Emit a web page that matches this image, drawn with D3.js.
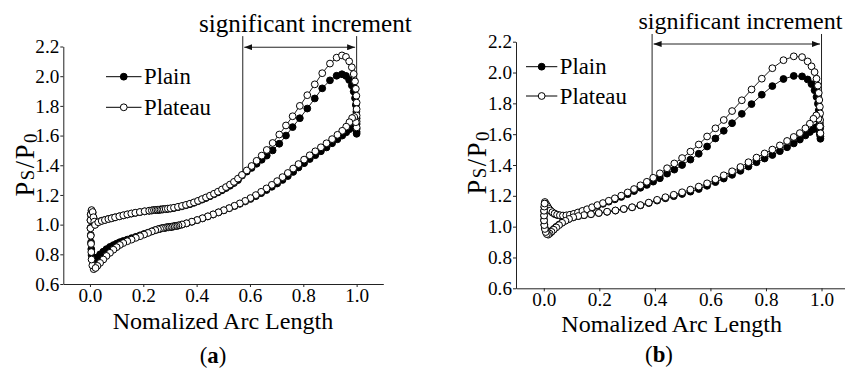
<!DOCTYPE html>
<html><head><meta charset="utf-8">
<script src="https://cdn.jsdelivr.net/npm/d3@7"></script>
<style>
body{margin:0;background:#fff}
svg{display:block}
</style></head>
<body><svg id="chart" width="845" height="372"></svg>
<script>
// ---------- data ----------
const seriesNames = ["Plain", "Plateau"];
const xTicks = [0.0, 0.2, 0.4, 0.6, 0.8, 1.0];
const yTicks = [0.6, 0.8, 1.0, 1.2, 1.4, 1.6, 1.8, 2.0, 2.2];
const xLabel = "Nomalized Arc Length";
const noteLabel = "significant increment";

// Panel (a): closed loop — leading-edge column, pressure side (to peak + TE), suction side back to LE
const aX = [
  0.014,0.009,0.006,0.005,0.004,0.003,0.002,0.002,0.003,0.006,0.010,0.013,0.016,
  0.019,0.031,0.044,0.056,0.069,0.081,0.094,0.110,0.125,0.140,0.155,0.170,0.187,0.205,0.222,
  0.232,0.240,0.247,0.253,0.259,0.265,0.271,0.277,0.284,0.292,0.302,
  0.315,0.330,0.345,0.360,0.375,0.390,0.405,0.420,0.435,0.450,0.465,0.480,0.495,0.510,0.525,0.540,0.555,0.570,
  0.588,0.606,0.625,0.644,0.663,0.685,0.710,0.735,0.760,0.787,0.815,0.843,0.871,0.900,0.925,0.945,0.960,0.972,0.982,0.989,0.994,0.997,0.999,1.000,1.000,1.000,1.000,1.000,
  0.997,0.991,0.983,0.973,0.961,0.946,0.928,0.908,0.887,0.866,0.845,0.824,0.803,0.782,0.762,0.742,0.722,0.702,0.682,0.662,0.642,0.622,0.602,0.582,0.562,0.542,0.522,0.502,0.482,0.462,0.442,0.422,0.402,0.382,0.362,0.345,0.332,0.324,0.318,0.312,0.306,0.300,0.294,0.288,0.282,0.276,0.270,0.263,0.255,0.245,0.232,0.218,0.203,0.188,0.172,0.156,0.140,0.125,0.112,0.100,0.088,0.075,0.062,0.050,0.038,0.028,0.021
];
const aPlain = [
  0.752,0.770,0.795,0.835,0.880,0.930,0.978,1.030,1.068,1.093,1.080,1.048,1.018,
  1.000,1.017,1.026,1.032,1.038,1.043,1.049,1.056,1.062,1.068,1.074,1.079,1.084,1.089,1.093,
  1.095,1.097,1.098,1.099,1.100,1.101,1.102,1.103,1.104,1.106,1.108,
  1.112,1.117,1.123,1.130,1.138,1.147,1.157,1.168,1.179,1.191,1.204,1.217,1.231,1.246,1.262,1.280,1.300,1.330,
  1.357,1.382,1.410,1.437,1.465,1.500,1.545,1.600,1.657,1.717,1.782,1.850,1.918,1.972,2.003,2.013,2.002,1.975,1.938,1.897,1.852,1.806,1.760,1.716,1.678,1.645,1.625,1.612,
  1.650,1.668,1.660,1.643,1.622,1.600,1.575,1.548,1.520,1.494,1.468,1.442,1.414,1.385,1.355,1.327,1.301,1.277,1.255,1.233,1.212,1.192,1.173,1.156,1.140,1.125,1.110,1.096,1.082,1.068,1.055,1.042,1.030,1.019,1.008,1.000,0.994,0.991,0.989,0.987,0.985,0.984,0.982,0.981,0.979,0.977,0.975,0.972,0.968,0.963,0.955,0.946,0.937,0.928,0.918,0.909,0.899,0.890,0.882,0.872,0.862,0.850,0.835,0.818,0.800,0.780,0.765
];
const aPlateau = [
  0.700,0.725,0.765,0.815,0.870,0.925,0.975,1.030,1.070,1.098,1.085,1.050,1.020,
  0.998,1.016,1.025,1.031,1.038,1.043,1.049,1.056,1.063,1.069,1.075,1.080,1.085,1.090,1.094,
  1.096,1.098,1.099,1.100,1.101,1.102,1.103,1.104,1.106,1.108,1.110,
  1.114,1.120,1.126,1.133,1.141,1.150,1.160,1.172,1.183,1.195,1.208,1.222,1.237,1.253,1.270,1.288,1.310,1.335,
  1.365,1.395,1.430,1.465,1.503,1.550,1.607,1.668,1.730,1.800,1.872,1.945,2.020,2.085,2.125,2.140,2.130,2.100,2.060,2.015,1.965,1.915,1.868,1.822,1.778,1.735,1.695,1.655,
  1.690,1.725,1.718,1.690,1.660,1.632,1.605,1.576,1.548,1.521,1.494,1.467,1.438,1.408,1.378,1.348,1.320,1.293,1.268,1.244,1.221,1.199,1.179,1.160,1.143,1.127,1.111,1.097,1.083,1.069,1.056,1.043,1.031,1.020,1.009,1.001,0.995,0.992,0.990,0.988,0.986,0.985,0.983,0.982,0.980,0.978,0.976,0.973,0.969,0.963,0.954,0.944,0.933,0.922,0.911,0.899,0.888,0.876,0.863,0.848,0.831,0.810,0.789,0.765,0.742,0.722,0.708
];
const aSpan = [0.573, 1.0];
const aSpanY = [2.27, 2.195, 1.347, 1.60];

// Panel (b)
const bX = [
  0.004,0.008,0.013,0.018,0.024,0.031,0.039,0.048,0.058,0.069,0.081,0.094,0.108,0.123,0.139,0.156,0.174,0.193,0.213,0.234,
  0.256,0.279,0.302,0.325,0.348,0.371,0.394,0.418,0.444,0.470,0.498,0.528,0.558,0.588,0.618,0.648,0.678,0.713,0.748,0.785,
  0.823,0.863,0.900,0.930,0.950,0.964,0.975,0.982,0.987,0.990,0.992,0.994,0.995,0.995,0.996,0.996,
  0.994,0.989,0.981,0.971,0.958,0.942,0.922,0.900,0.876,0.850,0.823,0.795,0.766,0.737,0.708,0.678,0.648,0.618,0.588,0.558,
  0.528,0.498,0.468,0.438,0.408,0.378,0.348,0.318,0.288,0.258,0.228,0.198,0.170,0.145,0.124,0.106,0.091,0.078,0.066,0.055,
  0.045,0.036,0.028,0.021,0.016,
  0.011,0.007,0.004,0.002,0.001,0.001,0.001,0.002,0.003
];
const bPlain = [
  1.155,1.143,1.129,1.115,1.102,1.091,1.082,1.076,1.072,1.070,1.071,1.075,1.081,1.089,1.099,1.110,1.122,1.135,1.148,1.162,
  1.177,1.193,1.211,1.231,1.252,1.271,1.292,1.314,1.344,1.370,1.400,1.435,1.473,1.520,1.572,1.622,1.671,1.732,1.795,1.856,
  1.912,1.958,1.978,1.975,1.955,1.925,1.885,1.842,1.798,1.755,1.712,1.672,1.638,1.605,1.585,1.570,
  1.600,1.632,1.645,1.632,1.614,1.592,1.565,1.540,1.515,1.490,1.465,1.442,1.418,1.390,1.362,1.336,1.312,1.289,1.265,1.244,
  1.227,1.212,1.198,1.184,1.169,1.153,1.138,1.125,1.114,1.104,1.096,1.088,1.080,1.074,1.068,1.060,1.050,1.039,1.027,1.013,
  0.999,0.985,0.972,0.962,0.956,
  0.960,0.972,0.990,1.013,1.042,1.072,1.101,1.127,1.145
];
const bPlateau = [
  1.160,1.148,1.133,1.118,1.105,1.094,1.085,1.078,1.074,1.072,1.073,1.077,1.083,1.092,1.102,1.113,1.126,1.140,1.153,1.168,
  1.184,1.201,1.222,1.244,1.268,1.291,1.317,1.346,1.379,1.410,1.445,1.487,1.533,1.585,1.638,1.692,1.750,1.820,1.890,1.960,
  2.028,2.080,2.105,2.100,2.072,2.040,2.003,1.960,1.915,1.868,1.822,1.778,1.735,1.692,1.649,1.606,
  1.650,1.700,1.722,1.700,1.668,1.638,1.607,1.582,1.556,1.527,1.500,1.475,1.448,1.418,1.387,1.359,1.333,1.307,1.281,1.260,
  1.240,1.223,1.207,1.191,1.174,1.156,1.140,1.126,1.115,1.105,1.097,1.089,1.081,1.075,1.069,1.061,1.050,1.038,1.025,1.010,
  0.995,0.980,0.966,0.955,0.948,
  0.952,0.965,0.985,1.010,1.040,1.072,1.103,1.130,1.150
];
const bSpan = [0.39, 1.0];
const bSpanY = [2.25, 2.185, 1.335, 1.60];

// ---------- font selection (serif, sized by measured width) ----------
const ctx = document.createElement("canvas").getContext("2d");
function tw(str, fam) { ctx.font = `100px ${fam}`; return ctx.measureText(str).width; }
let FAM = "serif";
for (const c of ['"Liberation Serif"', '"Tinos"', '"Times New Roman"', '"DejaVu Serif"', '"Noto Serif"']) {
  const probe = "Nomalized Arc Length 0.123";
  if (Math.abs(tw(probe, c + ", monospace") - tw(probe, "monospace")) > 0.5) { FAM = c + ", serif"; break; }
}
function fit(str, target, max) { const s = 100 * target / tw(str, FAM); return max ? Math.min(s, max) : s; }
const tickFS = fit("0.0", 24, 20);
const legFS = fit("Plateau", 67, 24);
const titleFS = fit(xLabel, 222, 25);

// ---------- drawing ----------
const svg = d3.select("#chart");
svg.style("font-family", FAM);
const defs = svg.append("defs");
defs.append("marker").attr("id", "arr").attr("viewBox", "0 0 8 6")
  .attr("refX", 8).attr("refY", 3).attr("markerWidth", 8).attr("markerHeight", 6)
  .attr("markerUnits", "userSpaceOnUse").attr("orient", "auto-start-reverse")
  .append("path").attr("d", "M0,0L8,3L0,6Z").attr("fill", "#111");

function drawPanel(cfg) {
  const g = svg.append("g");
  const x = d3.scaleLinear().domain([-0.1, 1.1]).range(cfg.xr);
  const y = d3.scaleLinear().domain([0.6, 2.2]).range(cfg.yr);

  const [sx0, sx1] = cfg.span;
  const [yTop, yArr, yFootL, yFootR] = cfg.spanY;
  g.append("line").attr("x1", x(sx0)).attr("x2", x(sx0)).attr("y1", y(yTop)).attr("y2", y(yFootL))
    .attr("stroke", "#222").attr("stroke-width", 1);
  g.append("line").attr("x1", x(sx1)).attr("x2", x(sx1)).attr("y1", y(yTop)).attr("y2", y(yFootR))
    .attr("stroke", "#222").attr("stroke-width", 1);
  g.append("line").attr("x1", x(sx0) + 1.5).attr("x2", x(sx1) - 1.5).attr("y1", y(yArr)).attr("y2", y(yArr))
    .attr("stroke", "#222").attr("stroke-width", 1)
    .attr("marker-start", "url(#arr)").attr("marker-end", "url(#arr)");
  g.append("text").attr("x", cfg.noteX).attr("y", cfg.noteY).attr("font-family", FAM)
    .attr("font-size", fit(noteLabel, cfg.noteW, 26)).text(noteLabel);

  const series = [
    {name: seriesNames[0], vals: cfg.plain, fill: "#000"},
    {name: seriesNames[1], vals: cfg.plateau, fill: "#fff"}
  ];
  const line = d3.line().x(d => x(d[0])).y(d => y(d[1]));
  series.forEach(s => {
    const pts = cfg.xs.map((v, i) => [v, s.vals[i]]);
    g.append("path").attr("d", line(pts) + "Z").attr("fill", "none")
      .attr("stroke", "#000").attr("stroke-width", 0.9);
    g.append("g").selectAll("circle").data(pts).join("circle")
      .attr("cx", d => x(d[0])).attr("cy", d => y(d[1])).attr("r", 3.4)
      .attr("fill", s.fill).attr("stroke", "#000").attr("stroke-width", 1);
  });

  const xa = g.append("g").attr("transform", `translate(0,${cfg.yr[0]})`)
    .call(d3.axisBottom(x).tickValues(xTicks).tickFormat(d3.format(".1f"))
      .tickSize(3).tickSizeOuter(0).tickPadding(1));
  const ya = g.append("g").attr("transform", `translate(${cfg.xr[0]},0)`)
    .call(d3.axisLeft(y).tickValues(yTicks).tickFormat(d3.format(".1f"))
      .tickSize(3).tickSizeOuter(0).tickPadding(1));
  [xa, ya].forEach(a => {
    a.attr("font-family", FAM).attr("font-size", tickFS);
    a.selectAll("path,line").attr("stroke", "#222");
    a.selectAll("text").attr("fill", "#000");
  });

  g.append("text").attr("x", cfg.xTitle[0]).attr("y", cfg.xTitle[1]).attr("text-anchor", "middle")
    .attr("font-family", FAM).attr("font-size", titleFS).text(xLabel);
  const yt = g.append("text").attr("text-anchor", "middle").attr("font-family", FAM).attr("font-size", titleFS * 1.1)
    .attr("transform", `translate(${cfg.yTitle[0]},${cfg.yTitle[1]}) rotate(-90)`)
    .attr("textLength", 63).attr("lengthAdjust", "spacing");
  yt.append("tspan").text("P");
  yt.append("tspan").attr("font-size", titleFS * 0.78).text("S");
  yt.append("tspan").text("/P");
  yt.append("tspan").attr("font-size", titleFS * 0.78).attr("dy", 3).text("0");

  series.forEach((s, i) => {
    const ly = cfg.legY[i];
    g.append("line").attr("x1", cfg.legX[0]).attr("x2", cfg.legX[1]).attr("y1", ly).attr("y2", ly)
      .attr("stroke", "#000").attr("stroke-width", 1);
    g.append("circle").attr("cx", (cfg.legX[0] + cfg.legX[1]) / 2).attr("cy", ly).attr("r", 3.4)
      .attr("fill", s.fill).attr("stroke", "#000").attr("stroke-width", 1);
    g.append("text").attr("x", cfg.legX[1] + 2.5).attr("y", ly + 7.5).attr("font-family", FAM)
      .attr("font-size", legFS).text(s.name);
  });

  const pl = g.append("text").attr("x", cfg.label[0]).attr("y", cfg.label[1])
    .attr("text-anchor", "middle").attr("font-family", FAM).attr("font-size", legFS);
  pl.append("tspan").text("(");
  pl.append("tspan").attr("font-weight", "bold").text(cfg.tag);
  pl.append("tspan").text(")");
}

drawPanel({
  xs: aX, plain: aPlain, plateau: aPlateau, span: aSpan, spanY: aSpanY, tag: "a",
  xr: [63.3, 383.3], yr: [284, 46.5],
  noteX: 199, noteY: 31.5, noteW: 213, xTitle: [223, 328.5], yTitle: [34, 165],
  legX: [106, 141.5], legY: [76.7, 107.3], label: [213, 363]
});
drawPanel({
  xs: bX, plain: bPlain, plateau: bPlateau, span: bSpan, spanY: bSpanY, tag: "b",
  xr: [516, 849.3], yr: [288.3, 41.7],
  noteX: 638.5, noteY: 28.5, noteW: 204, xTitle: [671.7, 331.5], yTitle: [485.5, 163],
  legX: [526, 557.3], legY: [66.7, 96], label: [659, 362]
});
</script>
</body></html>
